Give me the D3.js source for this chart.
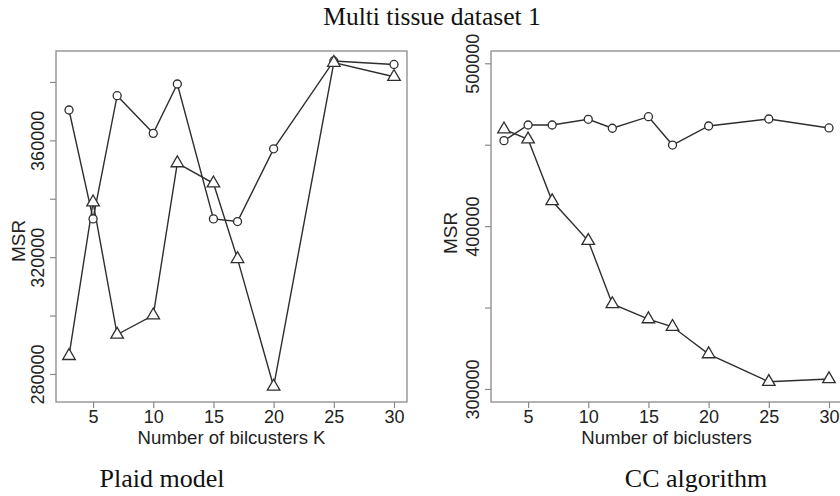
<!DOCTYPE html>
<html>
<head>
<meta charset="utf-8">
<script src="https://cdn.jsdelivr.net/npm/d3@7"></script>
<style>
  html, body { margin: 0; padding: 0; background: #fff; }
  svg { display: block; }
</style>
</head>
<body>
<svg id="chart" width="840" height="496"></svg>
<script>
// ---- data ----
const kValues = [3, 5, 7, 10, 12, 15, 17, 20, 25, 30];
const plaidCircle   = [370400, 333100, 375300, 362400, 379300, 333100, 332200, 357100, 387200, 386000];
const plaidTriangle = [286200, 338800, 293500, 300100, 352200, 345300, 319400, 275700, 386600, 381800];
const ccCircle      = [452500, 462100, 462100, 465600, 460100, 467200, 449800, 461500, 465800, 460300];
const ccTriangle    = [459500, 453300, 415400, 391000, 352200, 342900, 338200, 321400, 304400, 306100];
const xTicks = [5, 10, 15, 20, 25, 30];
const plaidYTicks = [280000, 300000, 320000, 340000, 360000, 380000];
const plaidYLabels = [280000, 320000, 360000];
const ccYTicks = [300000, 350000, 400000, 450000, 500000];
const ccYLabels = [300000, 400000, 500000];

const svg = d3.select("#chart");
const lineColor = "#2e2e2e";
const boxColor = "#8a8a8a";
const sans = "'Liberation Sans', Arial, sans-serif";
const serif = "'Liberation Serif', 'Times New Roman', serif";

svg.append("text")
  .attr("x", 432).attr("y", 25)
  .attr("text-anchor", "middle")
  .attr("font-family", serif).attr("font-size", 25.5)
  .attr("fill", "#111")
  .text("Multi tissue dataset 1");

function panel(opts) {
  const g = svg.append("g");
  const x = d3.scaleLinear().domain([1.92, 31.08]).range([opts.left, opts.left + 351]);
  const y = d3.scaleLinear().domain(opts.yDomain).range([402, 51]);

  // box
  g.append("rect")
    .attr("x", x.range()[0]).attr("y", 51)
    .attr("width", x.range()[1] - x.range()[0]).attr("height", 351)
    .attr("fill", "none").attr("stroke", boxColor).attr("stroke-width", 1.3);

  // x axis
  const xa = g.append("g").attr("transform", "translate(0,402)")
    .call(d3.axisBottom(x).tickValues(xTicks).tickSize(6).tickSizeOuter(0).tickFormat(d3.format("d")));
  xa.select(".domain").remove();
  xa.selectAll(".tick line").attr("stroke", boxColor).attr("stroke-width", 1.2);
  xa.selectAll(".tick text")
    .attr("font-family", sans).attr("font-size", 18).attr("fill", "#222")
    .attr("y", 21).attr("dy", 0);

  // y axis
  const ya = g.append("g").attr("transform", `translate(${x.range()[0]},0)`)
    .call(d3.axisLeft(y).tickValues(opts.yTicks).tickSize(6).tickSizeOuter(0)
      .tickFormat(d => opts.yLabels.includes(d) ? d3.format("d")(d) : ""));
  ya.select(".domain").remove();
  ya.selectAll(".tick line").attr("stroke", boxColor).attr("stroke-width", 1.2);
  ya.selectAll(".tick text")
    .attr("font-family", sans).attr("font-size", 18).attr("fill", "#222")
    .attr("x", 0).attr("dy", 0)
    .attr("text-anchor", "middle")
    .attr("transform", "translate(-12.5,0) rotate(-90)");

  // axis titles
  g.append("text")
    .attr("x", (x.range()[0] + x.range()[1]) / 2).attr("y", 444)
    .attr("text-anchor", "middle")
    .attr("font-family", sans).attr("font-size", 18.6).attr("fill", "#222")
    .text(opts.xTitle);
  g.append("text")
    .attr("transform", `translate(${opts.msrX},${opts.msrY}) rotate(-90)`)
    .attr("text-anchor", "middle")
    .attr("font-family", sans).attr("font-size", 19).attr("fill", "#222")
    .text("MSR");

  // caption
  g.append("text")
    .attr("x", opts.capX).attr("y", 487)
    .attr("text-anchor", "middle")
    .attr("font-family", serif).attr("font-size", 26).attr("fill", "#111")
    .text(opts.caption);

  const line = d3.line().x(d => x(d[0])).y(d => y(d[1]));
  const sCircle = kValues.map((k, i) => [k, opts.circle[i]]);
  const sTri = kValues.map((k, i) => [k, opts.triangle[i]]);

  [sCircle, sTri].forEach(s => {
    g.append("path").datum(s).attr("d", line)
      .attr("fill", "none").attr("stroke", lineColor).attr("stroke-width", 1.4);
  });
  g.selectAll(null).data(sCircle).join("circle")
    .attr("cx", d => x(d[0])).attr("cy", d => y(d[1])).attr("r", 4)
    .attr("fill", "#fff").attr("stroke", lineColor).attr("stroke-width", 1.3);
  const tri = d3.symbol().type(d3.symbolTriangle).size(68);
  g.selectAll(null).data(sTri).join("path")
    .attr("d", tri)
    .attr("transform", d => `translate(${x(d[0])},${y(d[1])})`)
    .attr("fill", "#fff").attr("stroke", lineColor).attr("stroke-width", 1.3);
}

panel({
  left: 56, yDomain: [270400, 390600], yTicks: plaidYTicks, yLabels: plaidYLabels,
  xTitle: "Number of bilcusters K", caption: "Plaid model", capX: 162,
  msrX: 25, msrY: 241, circle: plaidCircle, triangle: plaidTriangle
});
panel({
  left: 491, yDomain: [292000, 507550], yTicks: ccYTicks, yLabels: ccYLabels,
  xTitle: "Number of biclusters", caption: "CC algorithm", capX: 696,
  msrX: 457, msrY: 233, circle: ccCircle, triangle: ccTriangle
});
</script>
</body>
</html>
